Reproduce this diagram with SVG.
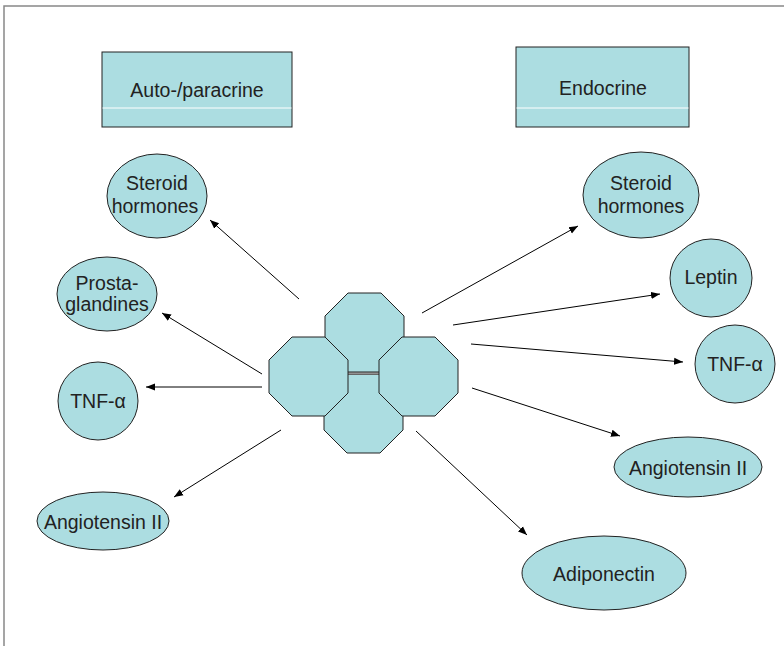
<svg xmlns="http://www.w3.org/2000/svg" width="784" height="646" viewBox="0 0 784 646">
  <style>
    .shape { fill: #acdde1; stroke: #222; stroke-width: 1; }
    .lbl { font-family: "Liberation Sans", Arial, sans-serif; font-size: 19.5px; fill: #222; text-anchor: middle; }
    .conn { stroke: #000; stroke-width: 1; fill: none; marker-end: url(#arrow); }
  </style>
  <defs>
    <marker id="arrow" viewBox="0 0 10 10" refX="10" refY="5" markerWidth="9" markerHeight="9" markerUnits="userSpaceOnUse" orient="auto">
      <path d="M0,1 L10,5 L0,9 Z" fill="#000"/>
    </marker>
    <!-- octagon 79 x 79 with 23 px chamfers -->
    <polygon id="oct" points="23,0 56,0 79,23 79,56 56,79 23,79 0,56 0,23"/>
  </defs>

  <rect width="784" height="646" fill="#fff"/>
  <!-- page frame -->
  <path d="M4,646 V6 H784" fill="none" stroke="#888" stroke-width="1.5"/>

  <!-- headings -->
  <g id="auto-paracrine">
    <rect class="shape" x="102" y="52" width="190" height="75"/>
    <line x1="102.5" y1="108" x2="291.5" y2="108" stroke="#fff" stroke-width="1"/>
    <text class="lbl" x="197" y="97">Auto-/paracrine</text>
  </g>
  <g id="endocrine">
    <rect class="shape" x="516" y="47" width="173" height="80"/>
    <line x1="516.5" y1="108" x2="688.5" y2="108" stroke="#fff" stroke-width="1"/>
    <text class="lbl" x="603" y="95">Endocrine</text>
  </g>

  <!-- central cell cluster -->
  <g id="cells">
    <use href="#oct" class="shape" x="325" y="293"/>
    <use href="#oct" class="shape" x="324" y="374"/>
    <line x1="348" y1="372.5" x2="379" y2="372.5" stroke="#666" stroke-width="1"/>
    <line x1="348" y1="374.5" x2="379" y2="374.5" stroke="#666" stroke-width="1"/>
    <use href="#oct" class="shape" x="269" y="337"/>
    <use href="#oct" class="shape" x="379" y="337"/>
  </g>

  <!-- connectors -->
  <g id="connectors">
    <line class="conn" x1="299" y1="299" x2="210" y2="220"/>
    <line class="conn" x1="262" y1="374" x2="162" y2="313"/>
    <line class="conn" x1="262" y1="387" x2="146" y2="387"/>
    <line class="conn" x1="281" y1="430" x2="174" y2="497"/>
    <line class="conn" x1="422" y1="313" x2="578" y2="226"/>
    <line class="conn" x1="453" y1="325" x2="660" y2="294"/>
    <line class="conn" x1="471" y1="344" x2="683" y2="362"/>
    <line class="conn" x1="472" y1="388" x2="620" y2="436"/>
    <line class="conn" x1="416" y1="431" x2="527" y2="535"/>
  </g>

  <!-- auto-/paracrine products -->
  <g id="l-steroid">
    <ellipse class="shape" cx="157" cy="196" rx="50" ry="42"/>
    <text class="lbl" x="157" y="190">Steroid</text>
    <text class="lbl" x="155" y="213">hormones</text>
  </g>
  <g id="l-prostaglandines">
    <ellipse class="shape" cx="107" cy="294" rx="50" ry="37"/>
    <text class="lbl" x="107" y="290">Prosta-</text>
    <text class="lbl" x="107" y="311">glandines</text>
  </g>
  <g id="l-tnf">
    <ellipse class="shape" cx="98" cy="401" rx="40" ry="39"/>
    <text class="lbl" x="98" y="408">TNF-α</text>
  </g>
  <g id="l-angiotensin">
    <ellipse class="shape" cx="103" cy="521" rx="66" ry="29"/>
    <text class="lbl" x="103" y="529">Angiotensin II</text>
  </g>

  <!-- endocrine products -->
  <g id="r-steroid">
    <ellipse class="shape" cx="641" cy="195" rx="58" ry="43"/>
    <text class="lbl" x="641" y="190">Steroid</text>
    <text class="lbl" x="641" y="213">hormones</text>
  </g>
  <g id="r-leptin">
    <ellipse class="shape" cx="711" cy="278" rx="41" ry="39"/>
    <text class="lbl" x="711" y="284">Leptin</text>
  </g>
  <g id="r-tnf">
    <ellipse class="shape" cx="735" cy="364" rx="40" ry="39"/>
    <text class="lbl" x="735" y="371">TNF-α</text>
  </g>
  <g id="r-angiotensin">
    <ellipse class="shape" cx="688" cy="467" rx="74" ry="30"/>
    <text class="lbl" x="688" y="475">Angiotensin II</text>
  </g>
  <g id="r-adiponectin">
    <ellipse class="shape" cx="604" cy="573" rx="82" ry="37"/>
    <text class="lbl" x="604" y="581">Adiponectin</text>
  </g>
</svg>
